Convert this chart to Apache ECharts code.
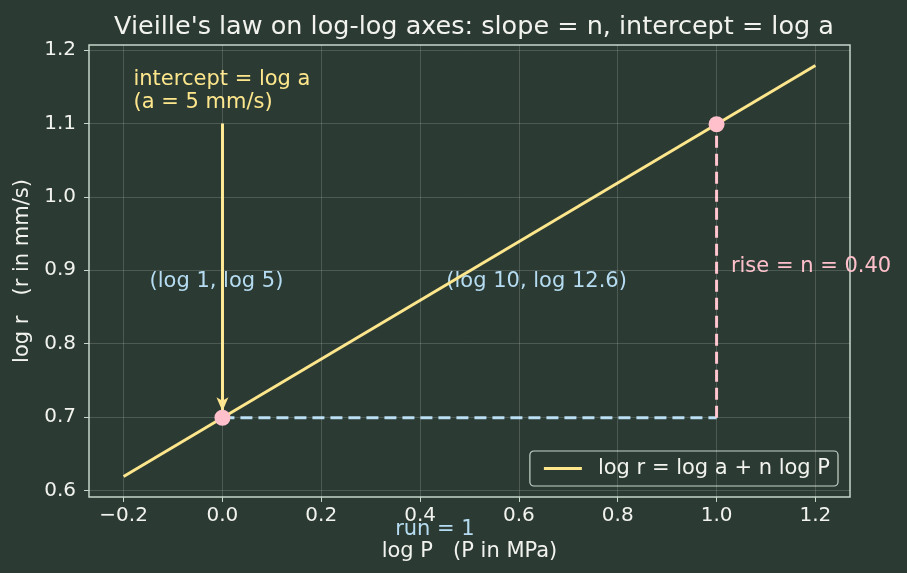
<!DOCTYPE html>
<html>
<head>
<meta charset="utf-8">
<script src="https://cdn.jsdelivr.net/npm/echarts@6/dist/echarts.min.js"></script>
<style>
html, body { margin: 0; padding: 0; background: #2b3a33; }
#chart { width: 907px; height: 573px; }
</style>
</head>
<body>
<div id="chart"></div>
<script>
// 拟合直线 log r = log a + n log P  (a = 5 mm/s, n = 0.40)
var fitLine = [[-0.2, 0.619], [1.2, 1.179]];
// 两个标记点 (log 1, log 5) 与 (log 10, log 12.6)
var keyPoints = [[0, 0.699], [1, 1.099]];
// run / rise 虚线
var runLine = [[0, 0.699], [1, 0.699]];
var riseLine = [[1, 0.699], [1, 1.099]];
// 箭头 起点/终点
var arrowStart = [0, 1.1];
var arrowEnd = [0, 0.708];
// 刻度
var xTicks = [-0.2, 0.0, 0.2, 0.4, 0.6, 0.8, 1.0, 1.2];
var yTicks = [0.6, 0.7, 0.8, 0.9, 1.0, 1.1, 1.2];

var FONT = 'DejaVu Sans';
var TXT = '#f2f3ee';
var GRIDC = 'rgba(255,255,255,0.16)';
var AXC = '#c8d6cb';

var myChart = echarts.init(document.getElementById('chart'));
myChart.setOption({
    backgroundColor: '#2b3a33',
    textStyle: { fontFamily: FONT },
    animation: false,
    title: {
        text: "Vieille's law on log-log axes: slope = n, intercept = log a",
        left: 469, textAlign: 'center',
        top: 9,
        textStyle: { color: TXT, fontSize: 25.5, fontWeight: 'normal', fontFamily: FONT }
    },
    grid: { //绘图区
        left: 89, right: 57, top: 45, bottom: 76,
        show: true, borderColor: AXC, borderWidth: 1.5, backgroundColor: 'transparent'
    },
    legend: {
        right: 69, bottom: 87,
        orient: 'vertical',
        backgroundColor: '#2b3a33',
        borderColor: AXC, borderWidth: 1.2, borderRadius: 4,
        padding: [7, 8, 7, 14],
        itemWidth: 38, itemHeight: 3, itemGap: 6,
        icon: 'rect',
        textStyle: { color: TXT, fontSize: 21, fontFamily: FONT, padding: [0, 0, 0, 11] },
        data: ['log r = log a + n log P']
    },
    xAxis: {
        type: 'value',
        min: -0.27, max: 1.27,
        name: 'log P   (P in MPa)',
        nameLocation: 'middle', nameGap: 44,
        nameTextStyle: { color: TXT, fontSize: 21, fontFamily: FONT },
        axisLine: { show: false, onZero: false },
        axisTick: { show: true, length: 5, lineStyle: { color: AXC }, customValues: xTicks },
        axisLabel: {
            color: TXT, fontSize: 20, margin: 9,
            customValues: xTicks,
            formatter: function (v) {
                return (v < 0 ? '\u2212' : '') + Math.abs(v).toFixed(1);
            }
        },
        splitLine: { show: false }
    },
    yAxis: {
        type: 'value',
        min: 0.591, max: 1.207,
        name: 'log r   (r in mm/s)',
        nameLocation: 'middle', nameGap: 56, nameRotate: 90,
        nameTextStyle: { color: TXT, fontSize: 21, fontFamily: FONT },
        axisLine: { show: false, onZero: false },
        axisTick: { show: true, length: 5, lineStyle: { color: AXC }, customValues: yTicks },
        axisLabel: {
            color: TXT, fontSize: 20, margin: 13,
            customValues: yTicks,
            formatter: function (v) { return v.toFixed(1); }
        },
        splitLine: { show: false }
    },
    series: [
        {
            name: 'log r = log a + n log P',
            type: 'line',
            data: fitLine,
            showSymbol: false,
            lineStyle: { color: '#fde68c', width: 3 },
            itemStyle: { color: '#fde68c' },
            z: 3
        },
        {
            name: 'run',
            type: 'line',
            data: runLine,
            showSymbol: false,
            lineStyle: { color: '#b6dcf2', width: 3, type: [12, 6] },
            z: 2
        },
        {
            name: 'rise',
            type: 'line',
            data: riseLine,
            showSymbol: false,
            lineStyle: { color: '#ffc0cb', width: 3, type: [12, 6] },
            z: 2
        },
        {
            name: 'arrow',
            type: 'line',
            data: [],
            markLine: {
                silent: true,
                symbol: ['none', 'arrow'],
                symbolSize: [9, 14],
                label: { show: false },
                lineStyle: { color: '#fde68c', width: 3, type: 'solid' },
                data: [[{ coord: arrowStart }, { coord: arrowEnd }]]
            },
            z: 4
        },
        {
            name: 'points',
            type: 'scatter',
            data: keyPoints,
            symbolSize: 16,
            itemStyle: { color: '#ffc0cb', opacity: 1 },
            z: 5
        },
        {
            // 网格线
            name: 'grid',
            type: 'line',
            data: [],
            markLine: {
                silent: true, symbol: 'none', label: { show: false },
                lineStyle: { color: GRIDC, width: 1, type: 'solid' },
                data: yTicks.map(function (v) { return { yAxis: v }; })
                    .concat(xTicks.map(function (v) { return { xAxis: v }; }))
            },
            z: 1
        }
    ]
});

// 文字注释
function px(pt) { return myChart.convertToPixel({ gridIndex: 0 }, pt); }
var pIntercept = px([-0.18, 1.164]);
var pA = px([0, 0.885]);
var pB = px([1, 0.885]);
var pRise = px([1.033, 0.905]);
var pRun = px([0.43, 0.591]);
var F = '21px DejaVu Sans';
myChart.setOption({
    graphic: [
        { type: 'text', x: pIntercept[0], y: 68,
          style: { text: 'intercept = log a\n(a = 5 mm/s)', fill: '#fde68c', font: F, lineHeight: 23, verticalAlign: 'top' } },
        { type: 'text', x: pA[0] - 6, y: pA[1], style: { text: '(log 1, log 5)', fill: '#b6dcf2', font: F, align: 'center', verticalAlign: 'middle' } },
        { type: 'text', x: pB[0] - 180, y: pB[1], style: { text: '(log 10, log 12.6)', fill: '#b6dcf2', font: F, align: 'center', verticalAlign: 'middle' } },
        { type: 'text', x: pRise[0] - 2, y: pRise[1], style: { text: 'rise = n = 0.40', fill: '#ffc0cb', font: F, align: 'left', verticalAlign: 'middle' } },
        { type: 'text', x: pRun[0], y: 530, style: { text: 'run = 1', fill: '#b6dcf2', font: F, align: 'center', verticalAlign: 'middle' }, z: 10 }
    ]
});
</script>
</body>
</html>
